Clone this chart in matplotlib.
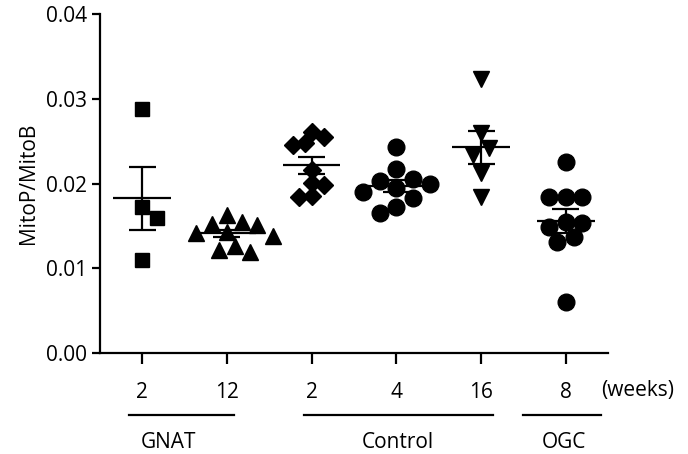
import matplotlib
matplotlib.use('Agg')
import matplotlib.pyplot as plt
import numpy as np

plt.rcParams['font.family'] = ['Open Sans', 'DejaVu Sans']

# values (MitoP/MitoB ratio)
weeks = ['2', '12', '2', '4', '16', '8']
groups = ['GNAT', 'Control', 'OGC']
gnat_2 = [0.0288, 0.0172, 0.0160, 0.0110]
gnat_12 = [0.0163, 0.0151, 0.0152, 0.0155, 0.0143, 0.0142, 0.0138, 0.0127, 0.0122, 0.0119]
ctrl_2 = [0.0255, 0.0261, 0.0245, 0.0248, 0.0216, 0.0198, 0.0201, 0.0184, 0.0186]
ctrl_4 = [0.0243, 0.0217, 0.0203, 0.0205, 0.0199, 0.0195, 0.0190, 0.0183, 0.0172, 0.0165]
ctrl_16 = [0.0324, 0.0260, 0.0242, 0.0234, 0.0212, 0.0184]
ogc_8 = [0.0225, 0.0184, 0.0184, 0.0184, 0.0153, 0.0155, 0.0149, 0.0137, 0.0131, 0.0060]

series = [gnat_2, gnat_12, ctrl_2, ctrl_4, ctrl_16, ogc_8]
markers = [('s', 10.5), ('^', 11), ('D', 9), ('o', 12), ('v', 12), ('o', 12)]

fig = plt.figure(figsize=(6.88, 4.54), dpi=100)
ax = fig.add_axes([0.145, 0.222, 0.739, 0.747])
ax.set_xlim(-0.5, 5.5)
ax.set_ylim(0, 0.04)


def swarm(vals, xc, size_px):
    # simple beeswarm in pixel space
    pts = ax.transData.transform([(xc, v) for v in vals])
    placed = []
    order = np.argsort(vals)[::-1]
    xs = np.zeros(len(vals))
    for i in order:
        py = pts[i, 1]
        best = None
        for k in range(0, 40):
            for s in ([0] if k == 0 else [k, -k]):
                off = s * size_px * 0.5
                ok = all((off - ox) ** 2 + (py - oy) ** 2 >= (size_px * 0.95) ** 2 for ox, oy in placed)
                if ok:
                    best = off
                    break
            if best is not None:
                break
        placed.append((best, py))
        xs[i] = ax.transData.inverted().transform((pts[i, 0] + best, py))[0]
    return xs


for i, vals in enumerate(series):
    m, ms = markers[i]
    size_px = ms * 100 / 72.0
    xs = swarm(vals, i, size_px)
    ax.plot(xs, vals, linestyle='none', marker=m, markersize=ms, color='black', zorder=2)
    mean = np.mean(vals)
    sem = np.std(vals, ddof=1) / np.sqrt(len(vals))
    ax.hlines(mean, i - 0.34, i + 0.34, color='black', lw=1.6, zorder=3)
    ax.vlines(i, mean - sem, mean + sem, color='black', lw=1.6, zorder=3)
    ax.hlines([mean - sem, mean + sem], i - 0.16, i + 0.16, color='black', lw=1.6, zorder=3)

ax.spines['top'].set_visible(False)
ax.spines['right'].set_visible(False)
for sp in ['left', 'bottom']:
    ax.spines[sp].set_linewidth(1.6)

ax.set_yticks([0, 0.01, 0.02, 0.03, 0.04])
ax.set_yticklabels(['%.2f' % t for t in [0, 0.01, 0.02, 0.03, 0.04]])
ax.set_xticks(range(len(weeks)))
ax.set_xticklabels(weeks)
ax.tick_params(axis='y', length=6, width=1.6, labelsize=15, pad=3)
ax.tick_params(axis='x', length=8, width=1.6, labelsize=15, pad=13)
ax.set_ylabel('MitoP/MitoB', fontsize=15, labelpad=5)

tr = ax.get_xaxis_transform()
ax.text(5.42, -0.109, '(weeks)', transform=tr, fontsize=15, ha='left', va='center', clip_on=False)

spans = [(-0.16, 1.08, 0.31), (1.91, 4.14, 3.02), (4.49, 5.42, 4.98)]
for name, (x0, x1, xm) in zip(groups, spans):
    ax.plot([x0, x1], [-0.183, -0.183], transform=tr, color='black', lw=1.6, clip_on=False)
    ax.text(xm, -0.263, name, transform=tr, fontsize=15, ha='center', va='center', clip_on=False)

fig.savefig('out.png', dpi=100)
